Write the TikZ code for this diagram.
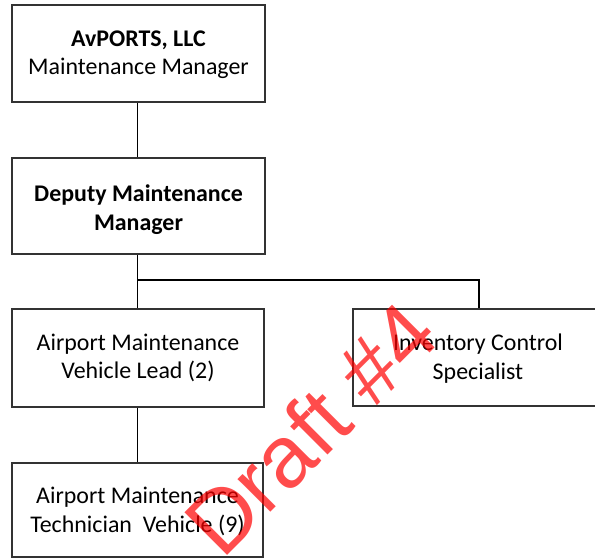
\documentclass[tikz,border=0pt]{standalone}
\usepackage{fontspec}
\setmainfont{Carlito}
\newfontfamily\markfont{Liberation Sans}
\begin{document}
\begin{tikzpicture}[x=1bp,y=-1bp,
  orgbox/.style={draw=black!80, line width=2bp, fill=white,
    minimum width=252bp, inner sep=0pt},
  boxtext/.style={align=center, inner sep=0pt,
    font=\fontsize{24}{28.5}\selectfont},
  link/.style={draw=black, line width=1.5bp}]
\useasboundingbox (0,0) rectangle (595,559);

% boxes
\node[orgbox, minimum height=97bp] (mgr) at (138.5,53.5) {};
\node[orgbox, minimum height=96bp] (dep) at (138.5,206) {};
\node[orgbox, minimum height=98bp] (lead) at (138,358) {};
\node[orgbox, minimum width=250bp, minimum height=97bp] (inv) at (478,357.5) {};
\node[orgbox, minimum width=251bp, minimum height=94bp] (tech) at (137.5,510) {};

% box texts
\node[boxtext] (mgr-t) at ([yshift=-1.5bp]mgr.center)
  {\textbf{AvPORTS, LLC}\\Maintenance Manager};
\node[boxtext] (dep-t) at ([yshift=-3.5bp]dep.center)
  {\textbf{Deputy Maintenance}\\\textbf{Manager}};
\node[boxtext] (lead-t) at (lead.center)
  {Airport Maintenance\\Vehicle Lead (2)};
\node[boxtext] (inv-t) at ([yshift=-1bp]inv.center)
  {Inventory Control\\Specialist};
\node[boxtext] (tech-t) at ([yshift=-1.5bp]tech.center)
  {Airport Maintenance\\Technician\ \ Vehicle (9)};

% reporting lines
\coordinate (split) at (137.5,280);
\draw[link] (mgr.south -| split) -- (dep.north -| split);
\draw[link] (dep.south -| split) -- (split) -- (lead.north -| split);
\draw[link] (split) -| ([xshift=1bp]inv.north);
\draw[link] (lead.south -| split) -- (tech.north -| split);

% watermark
\node[rotate=45, anchor=base west, text=red, opacity=0.7, inner sep=0pt,
  font=\markfont\fontsize{88}{88}\selectfont] (mark) at (222,561) {Draft \#4};
\end{tikzpicture}
\end{document}
